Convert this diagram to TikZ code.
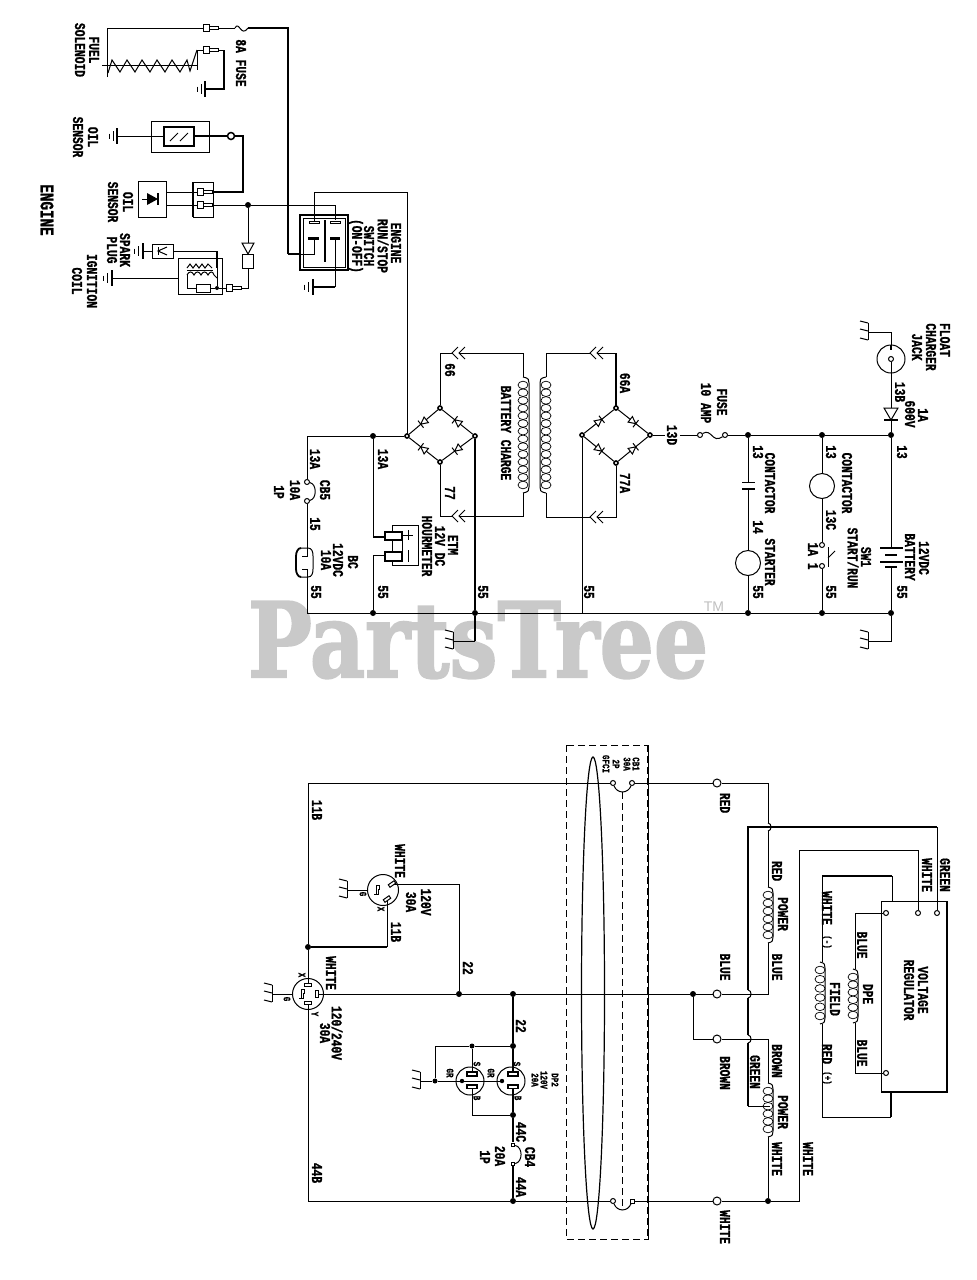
\documentclass[tikz,border=0pt]{standalone}
\usepackage{fontspec}
\newfontfamily\wirefont[FakeStretch=.75,FakeBold=1]{Liberation Mono}
\newfontfamily\markfont[FakeBold=2]{DejaVu Serif}
\newfontfamily\tmfont{Liberation Sans}
\tikzset{
  wire/.style={black,line width=1pt},
  hwire/.style={black,line width=2.2pt},
  wl/.style={rotate=-90,inner sep=0pt,font=\wirefont\bfseries\fontsize{15}{15}\selectfont},
  sl/.style={rotate=-90,inner sep=0pt,font=\wirefont\bfseries\fontsize{10}{10}\selectfont},
  dot/.style={circle,fill=black,inner sep=0pt,minimum size=6pt},
  corner/.style={circle,draw=black,fill=white,line width=1.6pt,inner sep=0pt,minimum size=4pt},
  sterm/.style={circle,draw=black,fill=white,line width=1pt,inner sep=0pt,minimum size=5pt},
  term/.style={circle,draw=black,fill=white,line width=1pt,inner sep=0pt,minimum size=8pt},
  load/.style={circle,draw=black,line width=1pt,inner sep=0pt,minimum size=25pt},
  outlet/.style={circle,draw=black,line width=1pt,inner sep=0pt,minimum size=31pt},
  pin/.style={draw=black,fill=white,line width=1pt},
}
\newcommand{\gndbars}[3]{
  \draw[line width=1.2pt] (#1,#2-8) -- (#1,#2+8);
  \draw[wire] (#1-#3,#2-5) -- (#1-#3,#2+5);
  \draw[wire] (#1-2*#3,#2-2.5) -- (#1-2*#3,#2+2.5);
}
\newcommand{\gndhatch}[2]{
  \draw[wire] (#1,#2-9) -- (#1,#2+8);
  \draw[wire] (#1,#2-9) -- (#1-8,#2-11);
  \draw[wire] (#1,#2-1) -- (#1-8,#2-3);
  \draw[wire] (#1,#2+8) -- (#1-8,#2+6);
}
\newcommand{\coil}[5]{
  \draw[wire] (#1,#2) .. controls (#1+#5,#2+1) and (#1+#5,#2+3) .. (#1+#5,#2+6) -- (#1+#5,#3-6) .. controls (#1+#5,#3-3) and (#1+#5,#3-1) .. (#1,#3);
  \pgfmathsetmacro{\coilstep}{(#3-#2-16)/(#4-1)}
  \foreach \k in {1,...,#4}
    \draw[black,line width=.7pt] (#1,{#2+8+(\k-1)*\coilstep}) ellipse [x radius=5,y radius=3.8];
}
\newcommand{\hop}[2]{
  \draw[wire] (#1,#2-4) .. controls (#1+4,#2-4) and (#1+4,#2+4) .. (#1,#2+4);
}
\newcommand{\chevrons}[2]{
  \draw[wire] (#1+5,#2-6) -- (#1-1,#2) -- (#1+5,#2+6);
  \draw[wire] (#1+12,#2-6) -- (#1+6,#2) -- (#1+12,#2+6);
}
\newcommand{\bdiode}[3]{
  \begin{scope}[shift={(#1,#2)},rotate=#3]
    \draw[wire,fill=white] (-3.5,-3.5) -- (-3.5,3.5) -- (3.5,0) -- cycle;
    \draw[wire] (3.5,-4.5) -- (3.5,4.5);
  \end{scope}
}
\newcommand{\plugpin}[2]{
  \draw[wire,fill=white] (#1,#2-3.5) rectangle (#1+6,#2+3.5);
  \draw[wire,fill=white] (#1+6,#2-1.5) rectangle (#1+15,#2+1.5);
}
\newcommand{\ghook}[1]{
  \begin{scope}[shift={(#1)}]
    \draw[wire] (-4,-5) -- (-7,-5) -- (-7,4) -- (-9,4);
    \draw[wire] (-4,-5) -- (-4,-1) -- (-5,-1) -- (-5,4) -- (-9,4);
  \end{scope}
}
\begin{document}
\begin{tikzpicture}[x=1pt,y=-1pt]
\useasboundingbox (0,0) rectangle (977,1280);
\node[inner sep=0pt,text=black!21,font=\markfont\bfseries\fontsize{104}{104}\selectfont,xscale=.82] (parts) at (478,640) {PartsTree};
\node[inner sep=0pt,text=black!25,font=\tmfont\fontsize{14}{14}\selectfont] (tm) at (714,607) {TM};

\node[wl,font=\wirefont\bfseries\fontsize{19}{19}\selectfont] (engine) at (47,210) {ENGINE};
\node[wl] (fuel) at (94,50) {FUEL};
\node[wl] (solenoid) at (80,50) {SOLENOID};
\node[wl] (fusel) at (241,63) {8A FUSE};
\node[wl] (oil1) at (93,137) {OIL};
\node[wl] (sens1) at (78,137) {SENSOR};
\node[wl] (oil2) at (128,202) {OIL};
\node[wl] (sens2) at (113,202) {SENSOR};
\node[wl] (spark) at (125,250) {SPARK};
\node[wl] (plug) at (112,250) {PLUG};
\node[wl] (ign) at (92,281) {IGNITION};
\node[wl] (coill) at (77,281) {COIL};
\node[wl] (sw1) at (396,243) {ENGINE};
\node[wl] (sw2) at (383,246) {RUN/STOP};
\node[wl] (sw3) at (369,246) {SWITCH};
\node[wl] (sw4) at (356,246) {(ON-OFF)};

\coordinate (sol1) at (107,28);
\coordinate (sol2) at (107,77);
\coordinate (f1) at (218,28);
\coordinate (f2) at (235,28);
\coordinate (f3) at (248,28);
\coordinate (f4) at (288,28);
\coordinate (f5) at (288,254);
\coordinate (swpad1) at (314,238);
\draw[wire] (sol2) -- (sol1) -- (203,28);
\plugpin{203}{28}
\draw[wire] (f1) -- (f2);
\draw[wire] (f2) .. controls (239,20) and (241,38) .. (f3);
\draw[hwire] (f3) -- (f4) -- (f5);
\draw[hwire] (f5) -- (300,254);
\draw[wire] (300,254) -| (swpad1);
\draw[wire] (102,65) -- (197,65);
\draw[wire] (108,73) -- (112,60) -- (120,72) -- (127,60) -- (135,72) -- (142,60) -- (150,72) -- (157,60) -- (165,72) -- (172,60) -- (180,72) -- (187,60) -- (190,71) -- (197,50);
\draw[wire] (197,50) -- (197,70);
\draw[wire] (197,50) -- (203,50);
\plugpin{203}{50}
\coordinate (solg) at (205,89);
\draw[wire] (218,50) -- (224,50);
\draw[hwire] (224,50) |- (solg);
\gndbars{205}{89}{4}

\draw[wire] (151,121) rectangle (209,152);
\draw[line width=1.6pt] (164,127) rectangle (194,146);
\draw[wire] (170,141) -- (178,133);
\draw[wire] (180,141) -- (188,133);
\coordinate (og1) at (117,136);
\draw[wire] (og1) -- (164,136);
\gndbars{117}{136}{4}
\node[term,line width=1.5pt,minimum size=7pt] (ojack) at (231,136) {};
\coordinate (oturn) at (243,136);
\coordinate (odn) at (243,192);
\draw[hwire] (194,136) -- (ojack);
\draw[hwire] (ojack) -- (oturn) -- (odn) -- (212,192);

\draw[wire] (138,181) rectangle (166,217);
\draw[wire] (142,199) -- (150,199);
\fill (147,193) -- (147,205) -- (158,199) -- cycle;
\draw[line width=1.4pt] (158,193) -- (158,205);
\draw[wire] (166,192) -- (197,192);
\draw[wire] (166,205) -- (197,205);
\draw[wire] (193,182) rectangle (213,217);
\draw[line width=1.6pt] (193,182) -- (193,217);
\plugpin{197}{192}
\plugpin{197}{205}
\node[dot] (eng) at (248,205) {};
\coordinate (swtab2) at (335,220);
\draw[wire] (212,205) -- (eng) -| (swtab2);

\draw[line width=1.8pt] (300,215) rectangle (348,270);
\draw[wire] (303,218) rectangle (345,267);
\draw[pin] (309,221) rectangle (319,223.5);
\draw[pin] (330,221) rectangle (340,223.5);
\draw[line width=1.6pt] (325,220) -- (325,262);
\draw[line width=3pt] (308,238) -- (319,238);
\draw[line width=3pt] (330,238) -- (340,238);
\coordinate (swtab1) at (314,221);
\coordinate (swup) at (314,192);
\coordinate (br1L) at (407,436);
\draw[wire] (swtab1) -- (swup) -| (br1L);
\coordinate (swpad2) at (335,238);
\coordinate (swg) at (313,287);
\draw[wire] (swpad2) -- (335,287);
\draw[hwire] (335,287) -- (swg);
\gndbars{313}{287}{4.5}

\coordinate (trb) at (248,243);
\draw[wire] (eng) -- (trb);
\draw[wire] (242,243) -- (254,243) -- (248,254) -- cycle;
\draw[wire] (242.5,254) rectangle (253.5,268);
\coordinate (ignb) at (248,288);
\draw[wire] (248,268) -- (ignb) -- (241,288);
\plugpin{226}{288}
\draw[wire] (178,258) rectangle (222,294);
\node[draw=black,line width=1pt,minimum width=21pt,minimum height=14pt,inner sep=0pt] (sparkbox) at (162.5,251) {};
\draw[wire] (158,247) -- (158,255);
\draw[wire] (167,247) -- (158,251) -- (167,255);
\coordinate (spg) at (143,251);
\draw[wire] (sparkbox) -- (spg);
\gndbars{143}{251}{4.5}
\node[dot,minimum size=4pt] (ignd) at (217,288) {};
\draw[wire] (sparkbox.east) -- (217,251);
\draw[hwire] (217,251) -- (217,268);
\draw[wire] (217,268) -- (ignd);
\draw[wire] (ignd) -- (226,288);
\draw[wire] (187,268) -- (190,264) -- (193,268) -- (196,264) -- (199,268) -- (202,264) -- (205,268) -- (208,264) -- (212,268);
\draw[wire] (187,270) -- (213,270);
\draw[wire] (187,275) .. controls (189,271) and (192,271) .. (194,275) .. controls (196,271) and (199,271) .. (201,275) .. controls (203,271) and (206,271) .. (208,275) .. controls (210,271) and (213,271) .. (214,275);
\draw[wire] (187,275) -- (187,288) -- (196,288);
\draw[wire] (196,284) rectangle (210,292);
\draw[wire] (210,288) -- (ignd);
\draw[wire] (214,275) -- (217,278);
\coordinate (ig1) at (112,278);
\draw[wire] (ig1) -- (178,278);
\gndbars{112}{278}{4.5}

\node[wl] (n66) at (450,370) {66};
\node[wl] (nbc) at (506,433) {BATTERY CHARGE};
\node[wl] (n13a1) at (315,459) {13A};
\node[wl] (n13a2) at (383,459) {13A};
\node[wl] (n77) at (450,493) {77};
\node[wl] (ncb5) at (325,490) {CB5};
\node[wl] (n10a) at (295,490) {10A};
\node[wl] (n1p) at (279,492) {1P};
\node[wl] (n15) at (315,524) {15};
\node[wl] (nbc1) at (353,562) {BC};
\node[wl] (nbc2) at (338,560) {12VDC};
\node[wl] (nbc3) at (326,560) {10A};
\node[wl] (n55a) at (316,592) {55};
\node[wl] (n55b) at (383,592) {55};
\node[wl] (n55c) at (483,592) {55};
\node[wl] (n55d) at (589,592) {55};
\node[wl] (netm) at (453,545) {ETM};
\node[wl] (n12v) at (440,546) {12V DC};
\node[wl] (nhour) at (427,546) {HOURMETER};

\node[corner] (b1T) at (440,408) {};
\node[corner] (b1R) at (475,436) {};
\node[corner] (b1B) at (440,462) {};
\node[corner] (b1L) at (407,436) {};
\draw[wire] (b1L) -- (b1T) -- (b1R) -- (b1B) -- (b1L);
\bdiode{423.5}{422}{218}
\bdiode{457.5}{422}{142}
\bdiode{423.5}{449}{142}
\bdiode{457.5}{449}{218}
\coordinate (c1t) at (440,353);
\coordinate (c1b) at (440,516);
\coordinate (c1a) at (523,353);
\coordinate (c1c) at (523,516);
\draw[wire] (b1T) -- (c1t) -- (452,353);
\chevrons{453}{353}
\draw[wire] (459,353) -- (c1a) -- (523,377);
\coil{523}{377}{493}{14}{6}
\draw[wire] (523,493) -- (c1c) -- (459,516);
\chevrons{453}{516}
\draw[wire] (452,516) -- (c1b) -- (b1B);

\coordinate (c2t) at (546,353);
\coordinate (c2b) at (546,517);
\draw[wire] (546,377) -- (c2t) -- (590,353);
\coil{546}{377}{493}{14}{-6}
\draw[wire] (546,493) -- (c2b) -- (590,517);
\chevrons{591}{353}
\chevrons{591}{517}

\node[dot] (j13a) at (373,436) {};
\node[dot] (j55a) at (373,613) {};
\node[dot] (j55b) at (475,613) {};
\coordinate (c13) at (307,436);
\node[sterm] (cb5a) at (307,482) {};
\node[sterm] (cb5b) at (307,501) {};
\draw[wire] (b1L) -- (j13a) -- (c13) -- (cb5a);
\draw[wire] (cb5a) .. controls (317,484) and (317,499) .. (cb5b);
\coordinate (bct) at (307,548);
\coordinate (bcb) at (307,577);
\draw[wire] (cb5b) -- (bct);
\draw[wire] (301,548) -- (308,548) .. controls (312,548) and (313,552) .. (313,556) -- (313,569) .. controls (313,573) and (312,577) .. (308,577) -- (301,577);
\draw[line width=1.8pt] (301,548) .. controls (298,548) and (296,552) .. (296,556) -- (296,569) .. controls (296,573) and (298,577) .. (301,577);
\draw[wire] (307,548) -- (307,556) -- (302,556);
\draw[wire] (307,577) -- (307,569) -- (302,569);
\coordinate (c55) at (307,613);
\draw[wire] (bcb) -- (c55) -- (j55a) -- (j55b) -- (582,613);
\coordinate (hm1) at (373,537);
\coordinate (hm2) at (373,555);
\draw[wire] (j13a) -- (hm1);
\draw[hwire] (hm1) -- (385,537);
\draw[wire] (j55a) -- (hm2) -- (385,555);
\draw[line width=1.4pt] (385,532) -- (385,540) -- (402,540) -- (402,532) -- cycle;
\draw[line width=1.4pt] (385,552) -- (385,561) -- (402,561) -- (402,552) -- cycle;
\draw[wire] (392,532) -- (392,525) -- (418,525) -- (418,565) -- (392,565) -- (392,561);
\draw[wire] (392,540) -- (392,552);
\draw[wire] (402,540) -- (402,552);
\draw[wire] (408,530) -- (408,540);
\draw[wire] (402,535) -- (413,535);
\draw[wire] (408,550) -- (408,562);
\coordinate (g1) at (475,641);
\coordinate (g1e) at (453,641);
\draw[hwire] (b1R) -- (j55b) -- (g1);
\draw[wire] (g1) -- (g1e);
\gndhatch{453}{641}

\node[wl] (n66a) at (625,383) {66A};
\node[wl] (n77a) at (625,483) {77A};
\node[wl] (n13d) at (672,435) {13D};
\node[wl] (nfuse) at (722,402) {FUSE};
\node[wl] (n10amp) at (706,403) {10 AMP};
\node[wl] (n13c1) at (758,452) {13};
\node[wl] (ncon1) at (770,483) {CONTACTOR};
\node[wl] (n14) at (758,527) {14};
\node[wl] (nstart) at (770,562) {STARTER};
\node[wl] (n55e) at (758,592) {55};
\node[wl] (n13c2) at (831,452) {13};
\node[wl] (ncon2) at (847,483) {CONTACTOR};
\node[wl] (n13cc) at (831,520) {13C};
\node[wl] (nsw1) at (866,557) {SW1};
\node[wl] (nstrun) at (853,558) {START/RUN};
\node[wl] (n1a1) at (813,556) {1A 1};
\node[wl] (n55f) at (831,592) {55};
\node[wl] (n13c3) at (902,452) {13};
\node[wl] (n55g) at (902,592) {55};
\node[wl] (n12vdc) at (924,558) {12VDC};
\node[wl] (nbatt) at (910,557) {BATTERY};
\node[wl] (n13b) at (900,392) {13B};
\node[wl] (n600v) at (910,414) {600V};
\node[wl] (n1a) at (923,415) {1A};
\node[wl] (nfloat) at (945,340) {FLOAT};
\node[wl] (ncharg) at (931,347) {CHARGER};
\node[wl] (njack) at (917,347) {JACK};

\node[corner] (b2T) at (616,408) {};
\node[corner] (b2R) at (650,435) {};
\node[corner] (b2B) at (616,463) {};
\node[corner] (b2L) at (582,435) {};
\draw[wire] (b2L) -- (b2T) -- (b2R) -- (b2B) -- (b2L);
\bdiode{599}{421.5}{38}
\bdiode{633}{421.5}{-38}
\bdiode{599}{449}{-38}
\bdiode{633}{449}{38}
\coordinate (c3t) at (616,353);
\coordinate (c3b) at (616,517);
\draw[wire] (597,353) -- (c3t);
\draw[hwire] (c3t) -- (616,406);
\draw[wire] (597,517) -- (c3b) -- (b2B);
\draw[wire] (b2L) -- (582,613);

\node[sterm] (fu1) at (700,435) {};
\node[sterm] (fu2) at (725,435) {};
\draw[wire] (b2R) -- (665,435);
\draw[wire] (680,435) -- (fu1);
\draw[wire] (fu1) .. controls (712,428) and (712,444) .. (fu2);
\node[dot] (j1) at (748,435) {};
\node[dot] (j2) at (822,435) {};
\node[dot] (j3) at (891,435) {};
\node[dot] (k1) at (748,613) {};
\node[dot] (k2) at (822,613) {};
\node[dot] (k3) at (891,613) {};
\draw[wire] (fu2) -- (j1) -- (j2) -- (j3);
\draw[wire] (582,613) -- (k1) -- (k2) -- (k3);
\coordinate (cap1) at (748,482);
\coordinate (cap2) at (748,489);
\node[load] (mstart) at (748,563) {};
\draw[wire] (j1) -- (cap1);
\draw[wire] (742,482) -- (755,482);
\draw[line width=1.6pt] (742,489) -- (755,489);
\draw[wire] (cap2) -- (mstart);
\draw[wire] (mstart) -- (k1);
\node[load] (mcont) at (822,486) {};
\node[sterm] (sa) at (822,545) {};
\node[sterm] (sb) at (822,566) {};
\draw[wire] (j2) -- (mcont);
\draw[wire] (mcont) -- (sa);
\draw[wire] (sb) -- (k2);
\draw[wire] (828,547) -- (828,567);
\draw[wire] (828,558) -- (835,551);
\coordinate (bat1) at (891,548);
\coordinate (bat2) at (891,567);
\draw[wire] (j3) -- (bat1);
\draw[line width=1.4pt] (880,548) -- (903,548);
\draw[line width=1.4pt] (885,555) -- (897,555);
\draw[line width=1.4pt] (880,562) -- (903,562);
\draw[line width=1.4pt] (885,567) -- (897,567);
\coordinate (g2) at (891,641);
\coordinate (g2e) at (868,641);
\draw[wire] (bat2) -- (k3) -- (g2) -- (g2e);
\gndhatch{868}{641}
\draw[wire] (j3) -- (891,420);
\draw[wire,fill=white] (884,408) -- (898,408) -- (891,420) -- cycle;
\draw[line width=1.4pt] (884,420) -- (898,420);
\node[circle,draw=black,line width=1pt,inner sep=0pt,minimum size=28pt] (jack) at (891,359) {};
\node[sterm] (jackc) at (891,359) {};
\coordinate (g3) at (891,332);
\coordinate (g3e) at (868,332);
\draw[wire] (891,408) -- (jackc);
\draw[line width=2pt] (891,345) -- (891,350);
\draw[wire] (jack.north) -- (g3) -- (g3e);
\gndhatch{868}{332}

\node[wl] (n11b1) at (317,810) {11B};
\node[wl] (n11b2) at (396,932) {11B};
\node[wl] (n120) at (426,902) {120V};
\node[wl] (n30a1) at (411,902) {30A};
\node[wl] (nwh1) at (400,861) {WHITE};
\node[wl] (nwh2) at (331,973) {WHITE};
\node[wl] (n22a) at (468,968) {22};
\node[wl] (n22b) at (521,1026) {22};
\node[wl] (n240) at (337,1033) {120/240V};
\node[wl] (n30a2) at (325,1033) {30A};
\node[wl] (n44c) at (521,1132) {44C};
\node[wl] (ncb4) at (530,1157) {CB4};
\node[wl] (n20a) at (500,1156) {20A};
\node[wl] (n1p2) at (485,1157) {1P};
\node[wl] (n44a) at (521,1187) {44A};
\node[wl] (n44b) at (317,1173) {44B};
\node[sl] (sx1) at (302,975) {X};
\node[sl] (sy1) at (315,1014) {Y};
\node[sl] (sg1) at (287,999) {G};
\node[sl] (sg2) at (363,894) {G};
\node[sl] (sx2) at (381,909) {X};
\node[sl] (ss1) at (477,1064) {S};
\node[sl] (sgr1) at (450,1073) {GR};
\node[sl] (sb1) at (477,1098) {B};
\node[sl] (ss2) at (517,1064) {S};
\node[sl] (sgr2) at (491,1073) {GR};
\node[sl] (sb2) at (518,1098) {B};
\node[sl] (dp1) at (555,1080) {DP2};
\node[sl] (dp2) at (544,1080) {120V};
\node[sl] (dp3) at (535,1080) {20A};
\node[sl] (cb1a) at (636,764) {CB1};
\node[sl] (cb1b) at (627,764) {30A};
\node[sl] (cb1c) at (616,764) {2P};
\node[sl] (cb1d) at (606,764) {GFCI};

\draw[black,line width=1pt,dash pattern=on 7pt off 4pt] (566,745) rectangle (648,1239);
\draw[black,line width=1.8pt,dash pattern=on 7pt off 4pt] (648,745) -- (648,1239);
\draw[line width=1.2pt] (593,993) ellipse [x radius=11.5,y radius=236];
\draw[black,dash pattern=on 7pt off 4pt,line width=.8pt] (622,792) -- (622,1210);

\node[outlet] (rec1) at (308,994) {};
\node[outlet] (rec2) at (383,890) {};
\node[outlet,minimum size=28pt] (rec3) at (470,1081) {};
\node[outlet,minimum size=28pt] (rec4) at (511,1081) {};
\coordinate (top11) at (308,783);
\node[dot] (j11) at (308,947) {};
\coordinate (x11) at (387,947);
\coordinate (p2x) at (387,899);
\coordinate (p2y) at (392,884);
\coordinate (r2t) at (459,884);
\coordinate (p1n) at (308,985);
\coordinate (p1s) at (308,1003);
\coordinate (p1e) at (317,994);
\node[dot] (j22) at (459,994) {};
\node[dot] (j22b) at (513,994) {};
\node[dot] (j22c) at (693,994) {};
\node[dot] (j22d) at (513,1046) {};
\node[dot,minimum size=5pt] (j22e) at (472,1046) {};
\node[dot,minimum size=5pt] (j22f) at (435,1081) {};
\node[dot] (j44) at (513,1115) {};
\node[dot] (j44a) at (513,1201) {};
\node[dot] (jw) at (768,1201) {};
\coordinate (corn) at (308,1201);
\draw[wire] (j11) -- (top11) -- (613,783);
\draw[wire] (p1n) -- (j11);
\draw[hwire] (j11) -- (x11);
\draw[wire] (x11) -- (p2x);
\draw[wire] (p2y) -- (r2t) -- (j22);
\draw[wire] (p1e) -- (j22) -- (j22b) -- (j22c);
\coordinate (grec1) at (272,994);
\coordinate (grec2) at (347,890);
\draw[wire] (rec1.west) -- (grec1);
\draw[wire] (rec2.west) -- (grec2);
\gndhatch{272}{994}
\gndhatch{347}{890}
\draw[wire] (p1s) -- (corn) -- (j44a);
\draw[pin] (304.5,983.5) rectangle (311.5,986.5);
\draw[pin] (304.5,1001.5) rectangle (311.5,1004.5);
\draw[pin] (315.5,990.5) rectangle (318.5,997.5);
\ghook{rec1}
\ghook{rec2}
\draw[pin,rotate around={35:(p2y)}] (388.5,882.5) rectangle (395.5,885.5);
\draw[pin,rotate around={35:(p2x)}] (383.5,897.5) rectangle (390.5,900.5);
\draw[hwire] (j22b) -- (j22d) -- (513,1073);
\draw[wire] (j22d) -- (j22e) -- (435,1046) -- (j22f);
\coordinate (grec3) at (420,1081);
\draw[wire] (grec3) -- (j22f) -- (455,1081);
\draw[wire] (455,1081) -- (502,1081);
\fill (462,1081) circle (2.2);
\fill (502,1081) circle (2.2);
\gndhatch{420}{1081}
\draw[wire] (j22e) -- (472,1073);
\draw[wire] (472,1088) -- (472,1115) -- (j44);
\draw[line width=1.3pt,fill=white] (467,1072) rectangle (477,1076);
\draw[line width=1.3pt,fill=white] (467,1085) rectangle (477,1088.5);
\draw[line width=1.3pt,fill=white] (508,1072) rectangle (518,1076);
\draw[line width=1.3pt,fill=white] (508,1085) rectangle (518,1088.5);
\node[sterm,rectangle,minimum size=3.5pt] (cb4a) at (513,1145) {};
\node[sterm,rectangle,minimum size=3.5pt] (cb4b) at (513,1164) {};
\draw[hwire] (513,1088.5) -- (j44) -- (513,1142);
\draw[wire] (cb4a) .. controls (523,1147) and (523,1162) .. (cb4b);
\draw[hwire] (513,1166) -- (j44a);

\node[sterm] (cb1x) at (613,783) {};
\node[sterm] (cb1y) at (632,783) {};
\node[sterm] (cb1u) at (613,1201) {};
\node[sterm,rectangle,minimum size=4pt] (cb1v) at (632,1201) {};
\draw[wire] (cb1x) .. controls (617,794) and (628,794) .. (cb1y);
\draw[wire] (cb1u) .. controls (617,1212) and (628,1212) .. (cb1v);
\draw[wire] (j44a) -- (cb1u);

\node[wl] (nred1) at (725,803) {RED};
\node[wl] (nblue1) at (725,967) {BLUE};
\node[wl] (nbrown1) at (725,1073) {BROWN};
\node[wl] (nwhite1) at (725,1227) {WHITE};
\node[wl] (nred2) at (777,871) {RED};
\node[wl] (npow1) at (783,914) {POWER};
\node[wl] (nblue2) at (777,967) {BLUE};
\node[wl] (nbrown2) at (777,1061) {BROWN};
\node[wl] (npow2) at (783,1112) {POWER};
\node[wl] (nwhite2) at (777,1159) {WHITE};
\node[wl] (nwhite3) at (808,1159) {WHITE};
\node[wl] (ngreen1) at (755,1072) {GREEN};
\node[wl] (nwhite4) at (927,875) {WHITE};
\node[wl] (ngreen2) at (945,875) {GREEN};
\node[wl] (nwneg) at (827,908) {WHITE};
\node[sl] (nwneg2) at (827,942) {(-)};
\node[wl] (nrpos) at (827,1054) {RED};
\node[sl] (nrpos2) at (827,1078) {(+)};
\node[wl] (nblue3) at (862,945) {BLUE};
\node[wl] (nblue4) at (862,1053) {BLUE};
\node[wl] (nfield) at (835,999) {FIELD};
\node[wl] (ndpe) at (868,994) {DPE};
\node[wl] (nvolt) at (923,990) {VOLTAGE};
\node[wl] (nreg) at (909,990) {REGULATOR};

\node[term] (tred) at (717,783) {};
\node[term] (tblue) at (717,994) {};
\node[term] (tbrown) at (717,1039) {};
\node[term] (twhite) at (717,1201) {};
\coordinate (wred) at (768,783);
\coordinate (wblue) at (768,994);
\coordinate (wbrown) at (768,1039);
\coordinate (wwhite) at (799,1201);
\coordinate (wwup) at (799,850);
\coordinate (rw) at (918,850);
\coordinate (rg) at (937,827);
\coordinate (gr1) at (748,827);
\coordinate (gr2) at (748,1106);
\coordinate (gr3) at (770,1106);
\draw[wire] (cb1y) -- (tred) -- (wred) -- (768,823);
\hop{768}{827}
\draw[wire] (768,831) -- (768,887);
\coil{768}{887}{943}{6}{5}
\draw[wire] (768,943) -- (wblue) -- (tblue) -- (j22c);
\draw[wire] (j22c) |- (tbrown);
\draw[wire] (tbrown) -- (wbrown) -- (768,1083);
\coil{768}{1083}{1137}{6}{5}
\draw[wire] (768,1137) -- (jw);
\draw[wire] (cb1v) -- (twhite) -- (jw) -- (wwhite) -- (wwup) -- (rw);
\draw[hwire] (rg) -- (gr1) -- (748,990);
\draw[hwire] (748,998) -- (748,1035);
\draw[hwire] (748,1043) -- (gr2);
\hop{748}{994}
\hop{748}{1039}
\draw[wire] (gr2) -- (gr3);

\draw[wire] (881,901) rectangle (947,1092);
\draw[line width=2pt] (881,1092) -- (947,1092) -- (947,901);
\node[sterm] (vr1) at (886,913) {};
\node[sterm] (vr2) at (918,913) {};
\node[sterm] (vr3) at (937,913) {};
\node[sterm] (vr4) at (886,1073) {};
\draw[wire] (rw) -- (vr2);
\draw[wire] (rg) -- (vr3);
\coordinate (dp1t) at (855,913);
\coordinate (dp1b) at (855,1073);
\draw[wire] (vr1) -- (dp1t) -- (855,969);
\coil{853}{969}{1023}{6}{5}
\draw[wire] (855,1023) -- (dp1b) -- (vr4);
\coordinate (fl1) at (822,876);
\coordinate (fl2) at (892,876);
\coordinate (fl3) at (822,1117);
\coordinate (fl4) at (891,1117);
\draw[hwire] (fl1) -- (fl2);
\draw[wire] (fl2) -- (892,901);
\draw[wire] (fl1) -- (822,962);
\coil{820}{962}{1024}{6}{5}
\draw[wire] (822,1024) -- (fl3) -- (fl4);
\draw[hwire] (fl4) -- (891,1092);
\end{tikzpicture}
\end{document}
